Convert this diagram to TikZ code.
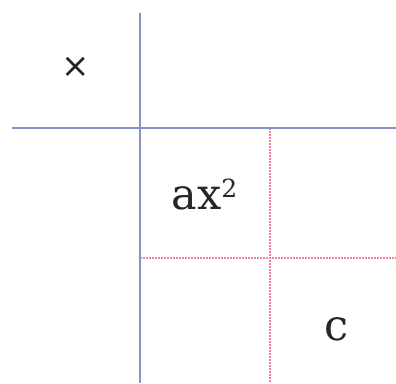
\documentclass[tikz,border=0pt]{standalone}
\usepackage{fontspec}
\setmainfont{DejaVu Serif}
\newfontfamily\crossfont{DejaVu Sans}
\definecolor{gridblue}{RGB}{136,146,200}
\definecolor{gridred}{RGB}{242,130,160}
\tikzset{
  axis line/.style={gridblue,line width=1.1pt},
  part line/.style={gridred,line width=1.8pt,dash pattern=on 1.5pt off 1.5pt},
  term label/.style={font=\fontsize{43}{52}\selectfont,text=black!85,inner sep=0pt,anchor=base}
}
\newcommand{\sqsup}{\raisebox{0.26em}{\fontsize{25}{28}\selectfont 2}}

\begin{document}
\begin{tikzpicture}[x=1pt,y=-1pt]
  \useasboundingbox (0,0) rectangle (396,383);
  \coordinate (vtop) at (140,13);
  \coordinate (vbot) at (140,383);
  \coordinate (hleft) at (12,128);
  \coordinate (hright) at (396,128);
  \coordinate (ptop) at (270,128);
  \coordinate (pbot) at (270,383);
  \coordinate (pleft) at (140,258);
  \coordinate (pright) at (396,258);
  \draw[part line] (ptop)--(pbot) (pleft)--(pright);
  \draw[axis line] (vtop)--(vbot) (hleft)--(hright);
  \node[font=\crossfont\fontsize{34}{40}\selectfont,text=black!85,inner sep=0pt] (times) at (75.5,67) {×};
  \node[term label] (ax) at (204.5,209) {ax\sqsup};
  \node[term label] (c) at (337,340) {c};
\end{tikzpicture}
\end{document}
